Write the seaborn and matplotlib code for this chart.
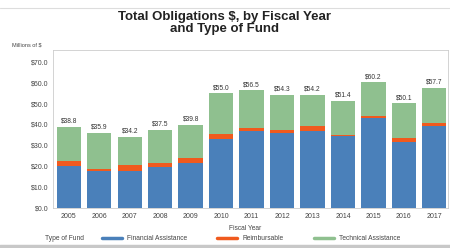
# Total obligations by fiscal year, stacked by type of fund

import numpy as np
import pandas as pd
import matplotlib
matplotlib.use("Agg")
import matplotlib.pyplot as plt
import seaborn as sb
from matplotlib.lines import Line2D

# Values (millions of $)
years = ["2005", "2006", "2007", "2008", "2009", "2010", "2011",
         "2012", "2013", "2014", "2015", "2016", "2017"]
financial = [20.0, 17.6, 17.6, 19.5, 21.3, 33.0, 36.9, 36.1, 36.9, 34.5, 43.0, 31.7, 39.3]
reimbursable = [2.4, 0.8, 2.9, 2.2, 2.7, 2.3, 1.6, 1.3, 2.4, 0.3, 1.1, 1.9, 1.3]
totals = [38.8, 35.9, 34.2, 37.5, 39.8, 55.0, 56.5, 54.3, 54.2, 51.4, 60.2, 50.1, 57.7]
technical = list(np.round(np.array(totals) - np.array(financial) - np.array(reimbursable), 1))
fund_names = ["Financial Assistance", "Reimbursable", "Technical Assistance"]
colors = ["#4a80ba", "#f05a1e", "#8fc08f"]

df = pd.DataFrame({"year": years, "fa": financial, "re": reimbursable, "ta": technical})
df["fa_re"] = df["fa"] + df["re"]
df["total"] = df["fa_re"] + df["ta"]

sb.set_style("white")
plt.rcParams["font.family"] = ["Liberation Sans", "DejaVu Sans"]

fig = plt.figure(figsize=(4.5, 2.48), dpi=100)
ax = fig.add_axes([53 / 450, 1 - 207.7 / 248, 395 / 450, (207.7 - 50) / 248])

# stacked bars: draw cumulative tops back to front
for col, c in zip(["total", "fa_re", "fa"], colors[::-1]):
    sb.barplot(data=df, x="year", y=col, color=c, width=0.8, ax=ax,
               saturation=1, linewidth=0, edgecolor="none")

for i, t in enumerate(df["total"]):
    ax.text(i, t + 1.0, f"${totals[i]:.1f}", ha="center", va="bottom", fontsize=4.8, color="#333333")

ax.set_xlim(-0.52, 12.45)
ax.set_ylim(0, 75.8)
ax.set_yticks(np.arange(0, 80, 10))
ax.set_yticklabels([f"${v:.1f}" for v in np.arange(0, 80, 10)], fontsize=5, color="#444444")
ax.tick_params(axis="x", labelsize=5, colors="#444444", length=0, pad=4)
ax.tick_params(axis="y", length=0, pad=3)
ax.set_xlabel("")
ax.set_ylabel("")
for s in ax.spines.values():
    s.set_color("#cccccc")
    s.set_linewidth(0.6)

fig.text(0.5, 1 - 23 / 248, "Total Obligations $, by Fiscal Year\nand Type of Fund",
         ha="center", va="center", fontsize=9.5, fontweight="bold", color="#222222", linespacing=1.05)
fig.text(27 / 450, 1 - 45 / 248, "Millions of $", ha="center", va="center", fontsize=4, color="#444444")
fig.text(245 / 450, 1 - 228 / 248, "Fiscal Year", ha="center", va="center", fontsize=4.8, color="#444444")
fig.text(64 / 450, 1 - 239 / 248, "Type of Fund", ha="center", va="center", fontsize=4.8, color="#444444")

handles = [Line2D([0], [0], color=c, lw=2.5) for c in colors]
leg = fig.legend(handles, fund_names, loc="center left", bbox_to_anchor=(99 / 450, 1 - 239 / 248),
                 ncol=3, frameon=False, fontsize=4.8, handlelength=3.0, columnspacing=4.5,
                 handletextpad=0.8, borderaxespad=0)
for t in leg.get_texts():
    t.set_color("#444444")

# frame lines at top and bottom of the graphic
fig.add_artist(Line2D([0, 1], [1 - 8 / 248, 1 - 8 / 248], color="#dddddd", lw=0.8))
fig.add_artist(Line2D([0, 1], [1 - 246 / 248, 1 - 246 / 248], color="#c8c8c8", lw=2.5))

plt.savefig("out.png", dpi=100)
